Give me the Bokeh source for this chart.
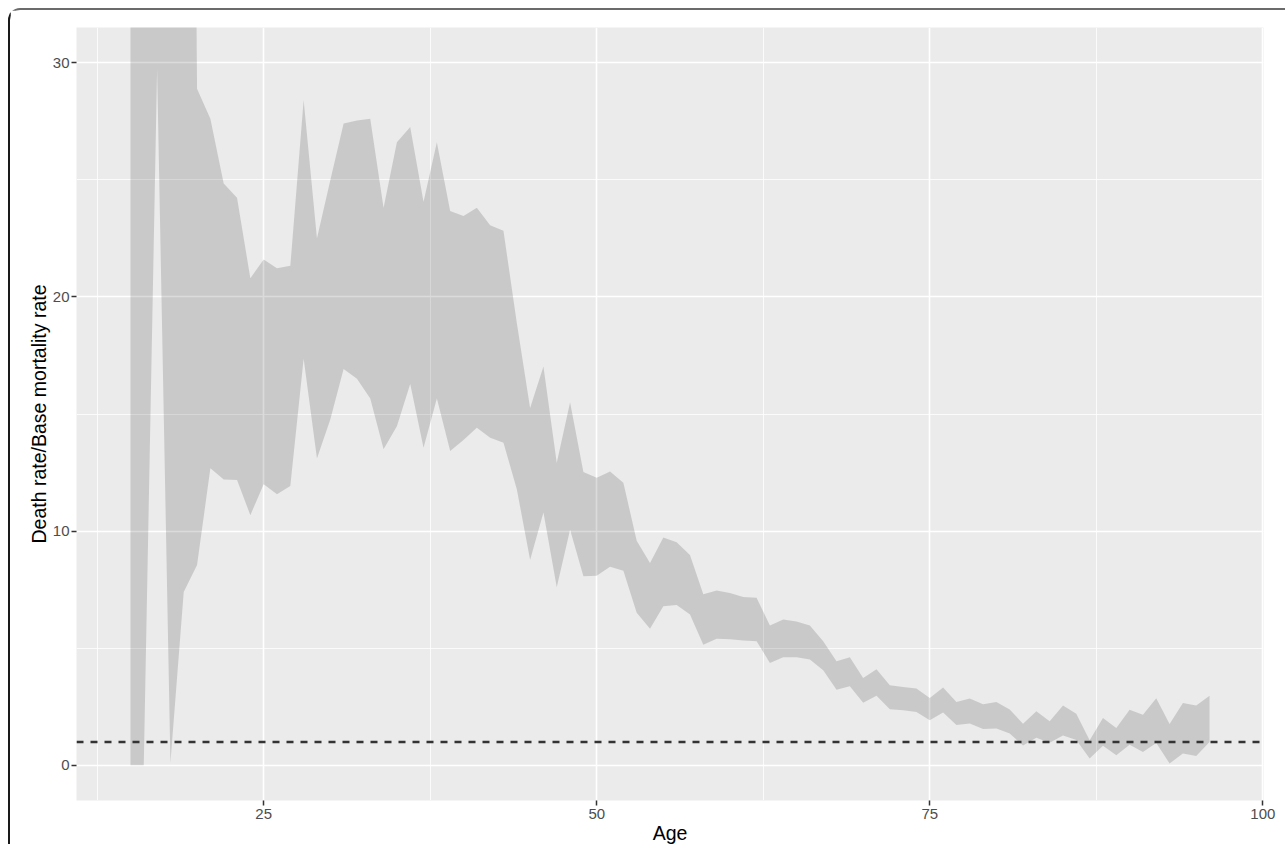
from bokeh.plotting import figure
from bokeh.models import Range1d, FixedTicker, Span, ColumnDataSource
from bokeh.embed import file_html
from bokeh.resources import INLINE

# ---- data ----
age = list(range(15, 97))
lower = [0, 0, 29.7, 0.1, 7.4, 8.55, 12.68, 12.2, 12.18, 10.68,
         12.0, 11.57, 11.93, 17.36, 13.1, 14.77, 16.92, 16.51, 15.66, 13.49,
         14.48, 16.28, 13.56, 15.66, 13.42, 13.89, 14.41, 13.99, 13.77, 11.79,
         8.77, 10.8, 7.6, 10.06, 8.07, 8.1, 8.48, 8.31, 6.51, 5.83,
         6.79, 6.85, 6.44, 5.15, 5.40, 5.38, 5.33, 5.30, 4.37, 4.62,
         4.62, 4.52, 4.06, 3.23, 3.38, 2.67, 2.97, 2.40, 2.35, 2.28,
         1.93, 2.26, 1.72, 1.79, 1.55, 1.57, 1.36, 0.85, 1.18, 0.97,
         1.28, 1.08, 0.29, 0.84, 0.43, 0.88, 0.57, 0.95, 0.08, 0.51,
         0.40, 1.00]
upper = [60, 60, 80, 90, 100, 28.88, 27.6, 24.84, 24.23, 20.8,
         21.6, 21.22, 21.33, 28.41, 22.5, 24.98, 27.4, 27.53, 27.6, 23.8,
         26.6, 27.25, 24.06, 26.6, 23.67, 23.45, 23.8, 23.06, 22.82, 18.9,
         15.26, 17.03, 12.92, 15.5, 12.52, 12.28, 12.54, 12.07, 9.59, 8.64,
         9.73, 9.52, 8.98, 7.30, 7.47, 7.36, 7.19, 7.16, 5.97, 6.23,
         6.14, 5.97, 5.3, 4.44, 4.62, 3.73, 4.10, 3.42, 3.35, 3.28,
         2.88, 3.32, 2.71, 2.85, 2.61, 2.71, 2.38, 1.78, 2.31, 1.88,
         2.56, 2.20, 1.07, 2.02, 1.59, 2.37, 2.16, 2.87, 1.77, 2.66,
         2.56, 2.97]
baseline = 1
x_ticks = [25, 50, 75, 100]
x_minor = [12.5, 37.5, 62.5, 87.5]
y_ticks = [0, 10, 20, 30]
y_minor = [5, 15, 25]

src = ColumnDataSource(dict(age=age, lower=lower, upper=upper))

p = figure(width=1277, height=836, output_backend="svg", toolbar_location=None,
           x_range=Range1d(10.95, 100.05), y_range=Range1d(-1.5, 31.5),
           min_border_left=66, min_border_right=24, min_border_top=17,
           min_border_bottom=44,
           background_fill_color="#EBEBEB", border_fill_color="white",
           outline_line_color=None)
p.styles = {"margin-left": "8px", "margin-top": "8px",
            "border-top": "2px solid #6b6b6b", "border-left": "2px solid #1a1a1a",
            "border-top-left-radius": "12px"}

p.varea(x="age", y1="lower", y2="upper", source=src,
        fill_color="#000000", fill_alpha=0.14)

p.add_layout(Span(location=baseline, dimension="width", line_color="#333333",
                  line_width=2.5, line_dash="7 7"))

p.xaxis.ticker = FixedTicker(ticks=x_ticks, minor_ticks=x_minor)
p.yaxis.ticker = FixedTicker(ticks=y_ticks, minor_ticks=y_minor)
p.xaxis.axis_label = "Age"
p.yaxis.axis_label = "Death rate/Base mortality rate"

for ax in (p.xaxis[0], p.yaxis[0]):
    ax.axis_line_color = None
    ax.major_tick_line_color = "#333333"
    ax.major_tick_line_width = 1.5
    ax.major_tick_in = 0
    ax.major_tick_out = 5
    ax.minor_tick_line_color = None
    ax.major_label_text_font = "Liberation Sans"
    ax.major_label_text_font_size = "15px"
    ax.major_label_text_color = "#4D4D4D"
    ax.axis_label_text_font = "Liberation Sans"
    ax.axis_label_text_font_size = "19.5px"
    ax.axis_label_text_font_style = "normal"
    ax.axis_label_text_color = "#000000"
    ax.axis_label_standoff = 0
p.xaxis.major_label_standoff = 3
p.yaxis.major_label_standoff = 2

p.grid.grid_line_color = "white"
p.grid.grid_line_width = 1.6
p.grid.minor_grid_line_color = "white"
p.grid.minor_grid_line_width = 0.8

open("out.html", "w").write(file_html(p, INLINE))
